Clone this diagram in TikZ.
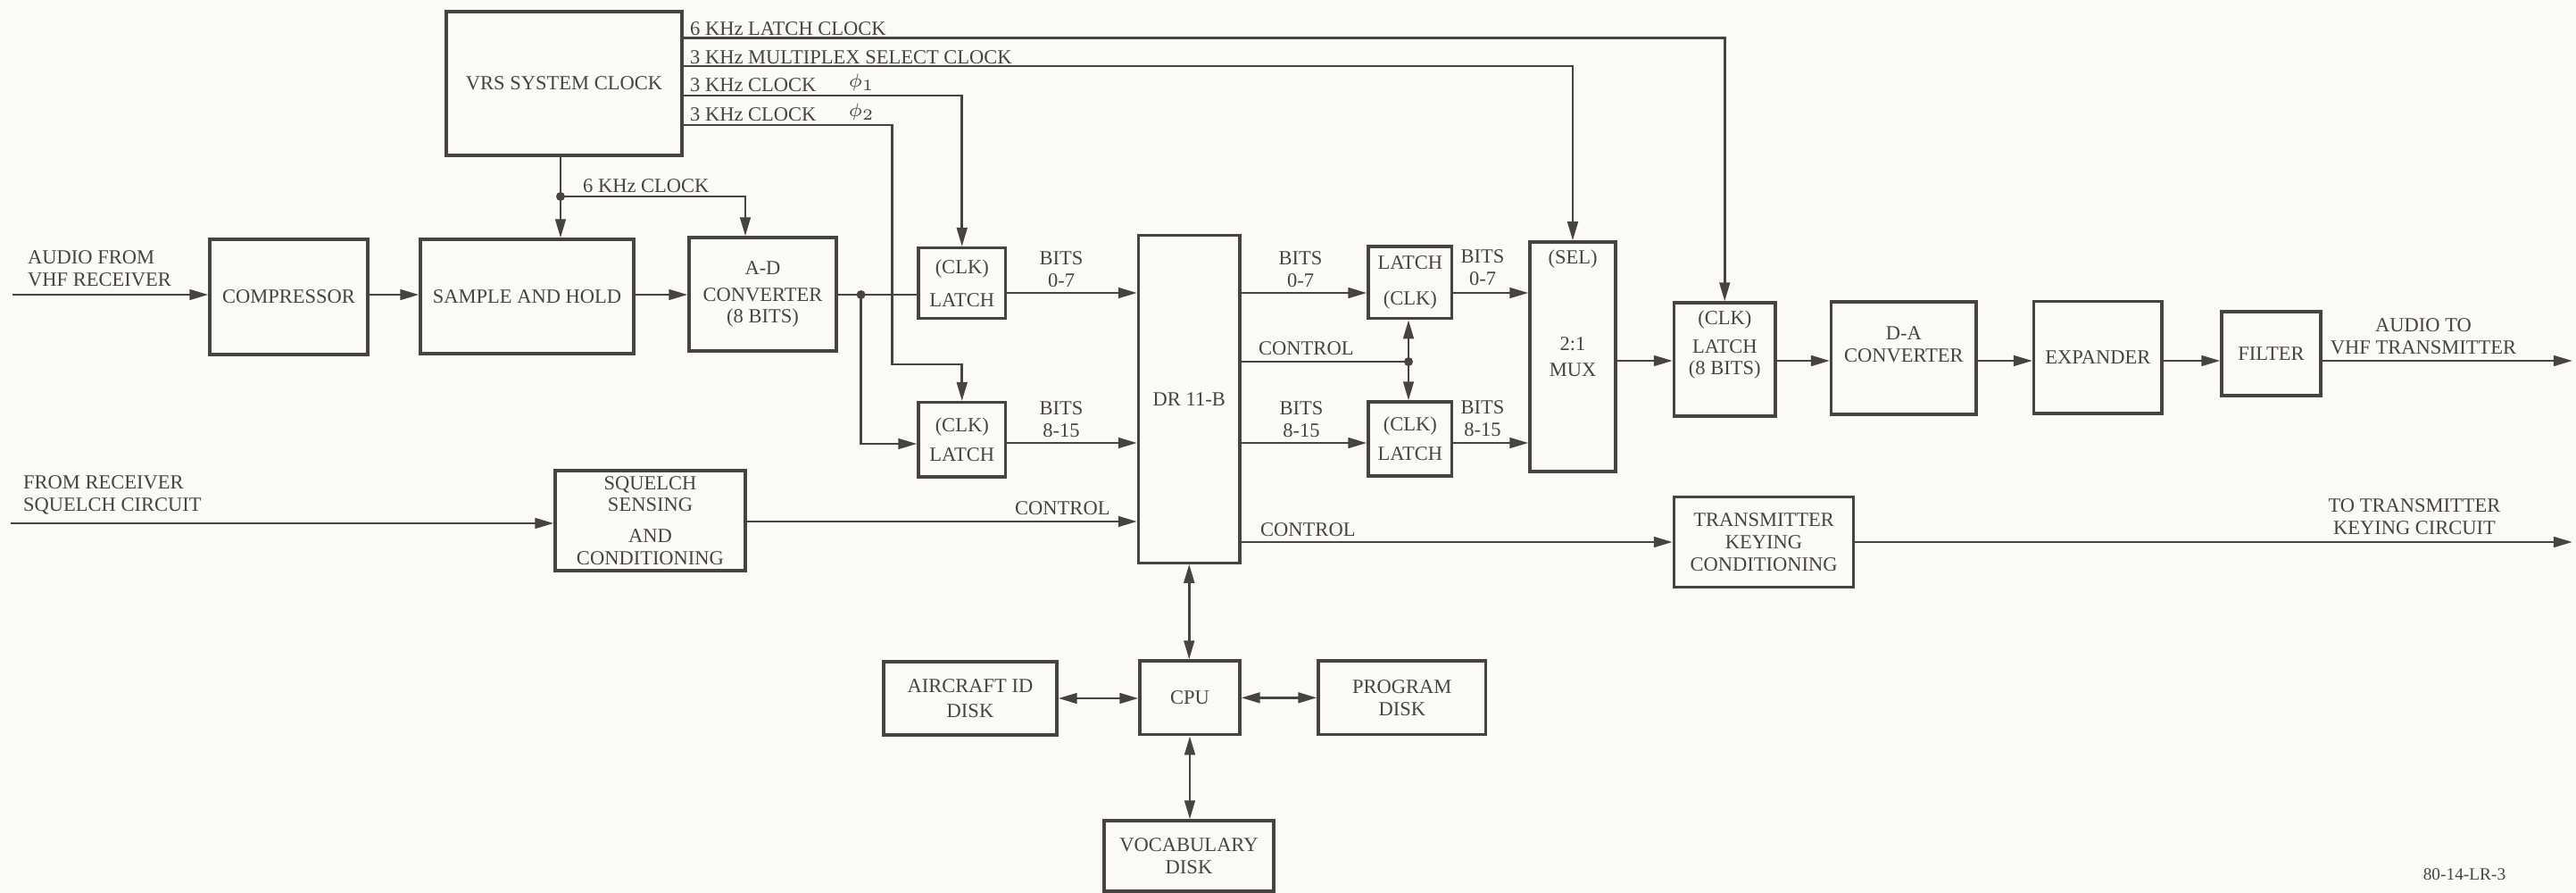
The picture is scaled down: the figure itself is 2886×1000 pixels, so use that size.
\documentclass[tikz,border=0pt]{standalone}
\usepackage{fontspec}
\setmainfont{Liberation Serif}
\usetikzlibrary{arrows.meta}
\definecolor{ink}{RGB}{70,68,66}
\definecolor{paper}{RGB}{250,250,247}
\newcommand\lbfont{\fontsize{6.4}{7}\selectfont}
\begin{document}
\begin{tikzpicture}[x=0.01cm, y=-0.01cm, color=ink,
  box/.style={draw, line width=0.9pt, inner sep=0.5pt, align=center, font=\lbfont},
  lbl/.style={inner sep=1pt, align=center, font=\lbfont},
  arr/.style={-{Triangle[length=6pt,width=3.3pt]}},
  darr/.style={{Triangle[length=6pt,width=3.3pt]}-{Triangle[length=6pt,width=3.3pt]}},
  wire/.style={line width=0.8pt},
  dot/.style={circle, fill, inner sep=0pt, minimum size=0.1cm}]
\fill[paper] (0,0) rectangle (2886,1000);
\useasboundingbox (0,0) rectangle (2886,1000);

% ---------- boxes ----------
\node[box, minimum width=2.64cm, minimum height=1.61cm] (clock) at (632,93.5) {VRS SYSTEM CLOCK};
\node[box, minimum width=1.77cm, minimum height=1.29cm] (comp) at (323.5,332.5) {COMPRESSOR};
\node[box, minimum width=2.39cm, minimum height=1.28cm] (sh) at (590.5,332) {SAMPLE AND HOLD};
\node[box, minimum width=1.65cm, minimum height=1.27cm] (ad) at (854.5,329.5) {A-D\\[1.5pt]CONVERTER\\(8 BITS)};
\node[box, minimum width=0.975cm, minimum height=0.79cm] (la1) at (1077.75,317.2) {(CLK)\\[3.5pt]LATCH};
\node[box, minimum width=0.975cm, minimum height=0.833cm] (la2) at (1077.75,492.35) {(CLK)\\[2.4pt]LATCH};
\node[box, minimum width=1.135cm, minimum height=3.66cm] (dr) at (1332.25,447) {DR 11-B};
\node[box, minimum width=0.935cm, minimum height=0.807cm] (la3) at (1579.75,316.35) {LATCH\\[4.6pt](CLK)};
\node[box, minimum width=0.935cm, minimum height=0.83cm] (la4) at (1579.75,491.5) {(CLK)\\[2.4pt]LATCH};
\node[box, minimum width=0.96cm, minimum height=2.57cm] (mux) at (1762,399.5) {2:1\\[1.4pt]MUX};
\node[lbl, anchor=north] (sel) at ([yshift=-0.06cm]mux.north) {(SEL)};
\node[box, minimum width=1.135cm, minimum height=1.27cm] (la5) at (1932.25,402.5) {LATCH\\(8 BITS)};
\node[lbl, anchor=north] (clk5) at ([yshift=-0.06cm]la5.north) {(CLK)};
\node[box, minimum width=1.623cm, minimum height=1.26cm] (da) at (2132.85,401) {};
\node[lbl] (datext) at (2132.85,386) {D-A\\CONVERTER};
\node[box, minimum width=1.433cm, minimum height=1.253cm] (exp) at (2350.35,400.35) {EXPANDER};
\node[box, minimum width=1.11cm, minimum height=0.94cm] (filt) at (2544.5,396) {FILTER};
\node[box, minimum width=2.13cm, minimum height=1.12cm] (sq) at (728.5,583) {SQUELCH\\SENSING\\[3pt]AND\\CONDITIONING};
\node[box, minimum width=2.012cm, minimum height=1.01cm] (tkc) at (1976.1,607.2) {TRANSMITTER\\KEYING\\CONDITIONING};
\node[box, minimum width=1.12cm, minimum height=0.827cm] (cpu) at (1333,781.35) {CPU};
\node[box, minimum width=1.94cm, minimum height=0.82cm] (acid) at (1087,782) {AIRCRAFT ID\\[1pt]DISK};
\node[box, minimum width=1.876cm, minimum height=0.827cm] (prog) at (1570.8,781.35) {PROGRAM\\DISK};
\node[box, minimum width=1.90cm, minimum height=0.79cm] (voc) at (1332,958.5) {VOCABULARY\\DISK};

% ---------- coordinates ----------
\coordinate (in1) at (14,330);
\coordinate (in2) at (12,586);
\coordinate (out1) at (2882,404);
\coordinate (out2) at (2882,607);
\coordinate (j1) at (964.6,330);
\coordinate (j1b) at (964.6,497);
\coordinate (j2) at (628,220);
\coordinate (k5) at (835,220);
\coordinate (j3) at (1578,405);
\coordinate (k1) at (1925,42.5);
\coordinate (k2) at (1760,74);
\coordinate (k3) at (1075,107);
\coordinate (k4) at (999.6,140);
\coordinate (k4b) at (999.6,408);
\coordinate (yb0) at (0,328);
\coordinate (yb8) at (0,496);
\coordinate (yc) at (0,584);
\coordinate (ya) at (0,404);

% ---------- connectors ----------
\draw[wire,arr] (in1) -- (in1 -| comp.west);
\draw[wire,arr] (comp.east |- in1) -- (sh.west |- in1);
\draw[wire,arr] (sh.east |- in1) -- (ad.west |- in1);
\draw[wire] (ad.east |- j1) -- (j1) -- (j1 -| la1.west);
\draw[wire,arr] (j1) -- (j1b) -- (j1b -| la2.west);

\draw[wire,arr] (clock.east |- k1) -- (k1 -| la5.north) -- (la5.north);
\draw[wire,arr] (clock.east |- k2) -- (k2 -| mux.north) -- (mux.north);
\draw[wire,arr] (clock.east |- k3) -- (k3 -| la1.north) -- (la1.north);
\draw[wire,arr] (clock.east |- k4) -- (k4) -- (k4b) -- (k4b -| la2.north) -- (la2.north);

\draw[wire,arr] (j2 |- clock.south) -- (j2) -- (j2 |- sh.north);
\draw[wire,arr] (j2) -- (k5) -- (k5 |- ad.north);

\draw[wire,arr] (la1.east |- yb0) -- (dr.west |- yb0);
\draw[wire,arr] (dr.east |- yb0) -- (la3.west |- yb0);
\draw[wire,arr] (la3.east |- yb0) -- (mux.west |- yb0);
\draw[wire,arr] (la2.east |- yb8) -- (dr.west |- yb8);
\draw[wire,arr] (dr.east |- yb8) -- (la4.west |- yb8);
\draw[wire,arr] (la4.east |- yb8) -- (mux.west |- yb8);

\draw[wire] (dr.east |- j3) -- (j3);
\draw[wire,arr] (j3) -- (j3 |- la3.south);
\draw[wire,arr] (j3) -- (j3 |- la4.north);

\draw[wire,arr] (in2) -- (in2 -| sq.west);
\draw[wire,arr] (sq.east |- yc) -- (dr.west |- yc);
\draw[wire,arr] (dr.east |- out2) -- (tkc.west |- out2);
\draw[wire,arr] (tkc.east |- out2) -- (out2);

\draw[wire,arr] (mux.east |- ya) -- (la5.west |- ya);
\draw[wire,arr] (la5.east |- ya) -- (da.west |- ya);
\draw[wire,arr] (da.east |- ya) -- (exp.west |- ya);
\draw[wire,arr] (exp.east |- ya) -- (filt.west |- ya);
\draw[wire,arr] (filt.east |- ya) -- (out1);

\draw[wire,darr] (dr.south) -- (dr.south |- cpu.north);
\draw[wire,darr] (acid.east) -- (cpu.west |- acid.east);
\draw[wire,darr] (cpu.east) -- (prog.west |- cpu.east);
\draw[wire,darr] (cpu.south) -- (cpu.south |- voc.north);

\node[dot] (dj1) at (j1) {};
\node[dot] (dj2) at (j2) {};
\node[dot] (dj3) at (j3) {};

% ---------- labels ----------
\node[lbl, anchor=base west] (t1) at (769,40) {6 KHz LATCH CLOCK};
\node[lbl, anchor=base west] (t2) at (769,71.5) {3 KHz MULTIPLEX SELECT CLOCK};
\node[lbl, anchor=base west] (t3) at (769,103) {3 KHz CLOCK\hspace{1.6em}\raisebox{1.5pt}{$\phi_1$}};
\node[lbl, anchor=base west] (t4) at (769,136) {3 KHz CLOCK\hspace{1.6em}\raisebox{1.5pt}{$\phi_2$}};
\node[lbl, anchor=base west] (t5) at (649,215) {6 KHz CLOCK};
\node[lbl, anchor=south west, align=left] (t6) at (27,325) {AUDIO FROM\\VHF RECEIVER};
\node[lbl, anchor=south west, align=left] (t7) at (22,580) {FROM RECEIVER\\SQUELCH CIRCUIT};
\node[lbl, anchor=south] (b1) at (1189,326) {BITS\\0-7};
\node[lbl, anchor=south] (b2) at (1189,494) {BITS\\8-15};
\node[lbl, anchor=south] (b3) at (1457,326) {BITS\\0-7};
\node[lbl, anchor=south] (b4) at (1458,494) {BITS\\8-15};
\node[lbl, anchor=south] (b5) at (1661,324) {BITS\\0-7};
\node[lbl, anchor=south] (b6) at (1661,493) {BITS\\8-15};
\node[lbl, anchor=south west] (c1) at (1406,402) {CONTROL};
\node[lbl, anchor=south west] (c2) at (1133,581) {CONTROL};
\node[lbl, anchor=south west] (c3) at (1408,605) {CONTROL};
\node[lbl, anchor=south] (o1) at (2715,401) {AUDIO TO\\VHF TRANSMITTER};
\node[lbl, anchor=south] (o2) at (2705,603) {TO TRANSMITTER\\KEYING CIRCUIT};
\node[lbl, anchor=base] (fig) at (2761,985) {\fontsize{5.5}{6}\selectfont 80-14-LR-3};
\end{tikzpicture}
\end{document}
